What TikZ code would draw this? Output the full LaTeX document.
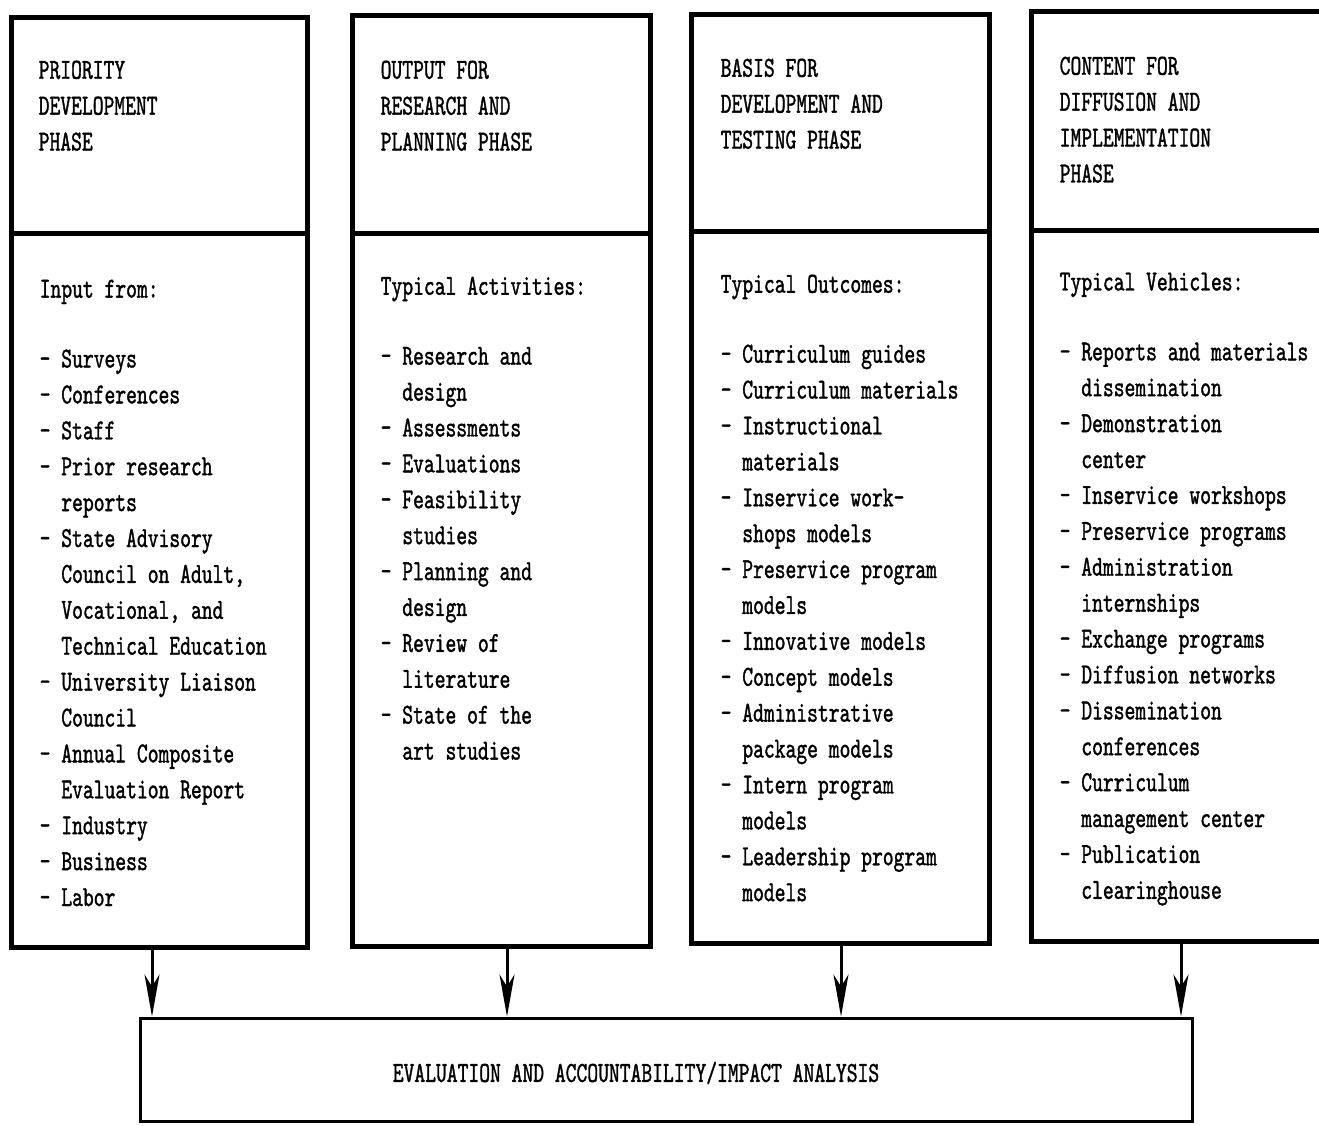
\documentclass[tikz,border=0pt]{standalone}
\usepackage{fontspec}
\newfontfamily\typefont[FakeStretch=0.71,FakeBold=1.2]{lmmono10-regular.otf}
\usetikzlibrary{arrows.meta}
\newcommand\ind{\hphantom{XX}}

\begin{document}
\begin{tikzpicture}[x=1pt,y=-1pt,>={Stealth[length=42pt,width=15pt,inset=12pt]},%
    box/.style={draw,rectangle,line width=5pt,inner sep=0pt},
    evalbox/.style={draw,rectangle,line width=3pt,inner sep=0pt},
    txt/.style={anchor=north west,inner sep=0pt,align=left,
        font=\typefont\fontsize{29}{35.9}\selectfont},
    flow/.style={->,line width=3pt}]
    \useasboundingbox (0,0) rectangle (1319,1125);

    % phase columns
    \node[box,minimum width=296pt,minimum height=216pt] (head1) at (159,125)    {};
    \node[box,minimum width=296pt,minimum height=714pt] (body1) at (159,590)    {};
    \node[box,minimum width=298pt,minimum height=218pt] (head2) at (501,124)    {};
    \node[box,minimum width=298pt,minimum height=713pt] (body2) at (501,589.5)  {};
    \node[box,minimum width=298pt,minimum height=217pt] (head3) at (840,122.5)  {};
    \node[box,minimum width=298pt,minimum height=712pt] (body3) at (840,587)    {};
    \node[box,minimum width=300pt,minimum height=219pt] (head4) at (1181,120.5) {};
    \node[box,minimum width=300pt,minimum height=711pt] (body4) at (1181,585.5) {};
    \node[evalbox,minimum width=1052pt,minimum height=103pt] (eval) at (666,1069.5) {};

    % headings
    \node[txt] (title1) at ([shift={(30,46)}]head1.north west) {PRIORITY\\DEVELOPMENT\\PHASE};
    \node[txt] (title2) at ([shift={(31,48)}]head2.north west) {OUTPUT FOR\\RESEARCH AND\\PLANNING PHASE};
    \node[txt] (title3) at ([shift={(32,47)}]head3.north west) {BASIS FOR\\DEVELOPMENT AND\\TESTING PHASE};
    \node[txt] (title4) at ([shift={(31,48)}]head4.north west) {CONTENT FOR\\DIFFUSION AND\\IMPLEMENTATION\\PHASE};

    % lists
    \node[txt] (list1) at ([shift={(31,49)}]body1.north west) {Input from:\\[34pt]
        - Surveys\\- Conferences\\- Staff\\- Prior research\\\ind reports\\
        - State Advisory\\\ind Council on Adult,\\\ind Vocational, and\\\ind Technical Education\\
        - University Liaison\\\ind Council\\- Annual Composite\\\ind Evaluation Report\\
        - Industry\\- Business\\- Labor};
    \node[txt] (list2) at ([shift={(31,46)}]body2.north west) {Typical Activities:\\[34pt]
        - Research and\\\ind design\\- Assessments\\- Evaluations\\- Feasibility\\\ind studies\\
        - Planning and\\\ind design\\- Review of\\\ind literature\\- State of the\\\ind art studies};
    \node[txt] (list3) at ([shift={(32,46)}]body3.north west) {Typical Outcomes:\\[34pt]
        - Curriculum guides\\- Curriculum materials\\- Instructional\\\ind materials\\
        - Inservice work-\\\ind shops models\\- Preservice program\\\ind models\\
        - Innovative models\\- Concept models\\- Administrative\\\ind package models\\
        - Intern program\\\ind models\\- Leadership program\\\ind models};
    \node[txt] (list4) at ([shift={(31,45)}]body4.north west) {Typical Vehicles:\\[34pt]
        - Reports and materials\\\ind dissemination\\- Demonstration\\\ind center\\
        - Inservice workshops\\- Preservice programs\\- Administration\\\ind internships\\
        - Exchange programs\\- Diffusion networks\\- Dissemination\\\ind conferences\\
        - Curriculum\\\ind management center\\- Publication\\\ind clearinghouse};

    \node[txt,anchor=center] (evaltext) at (636,1073) {EVALUATION AND ACCOUNTABILITY/IMPACT ANALYSIS};

    % into evaluation
    \foreach \i/\dx in {1/-7,2/6,3/1,4/0} {
        \coordinate (foot\i) at ([xshift=\dx pt]body\i.south);
        \draw[flow] (foot\i) -- (foot\i |- eval.north);
    }
\end{tikzpicture}
\end{document}
